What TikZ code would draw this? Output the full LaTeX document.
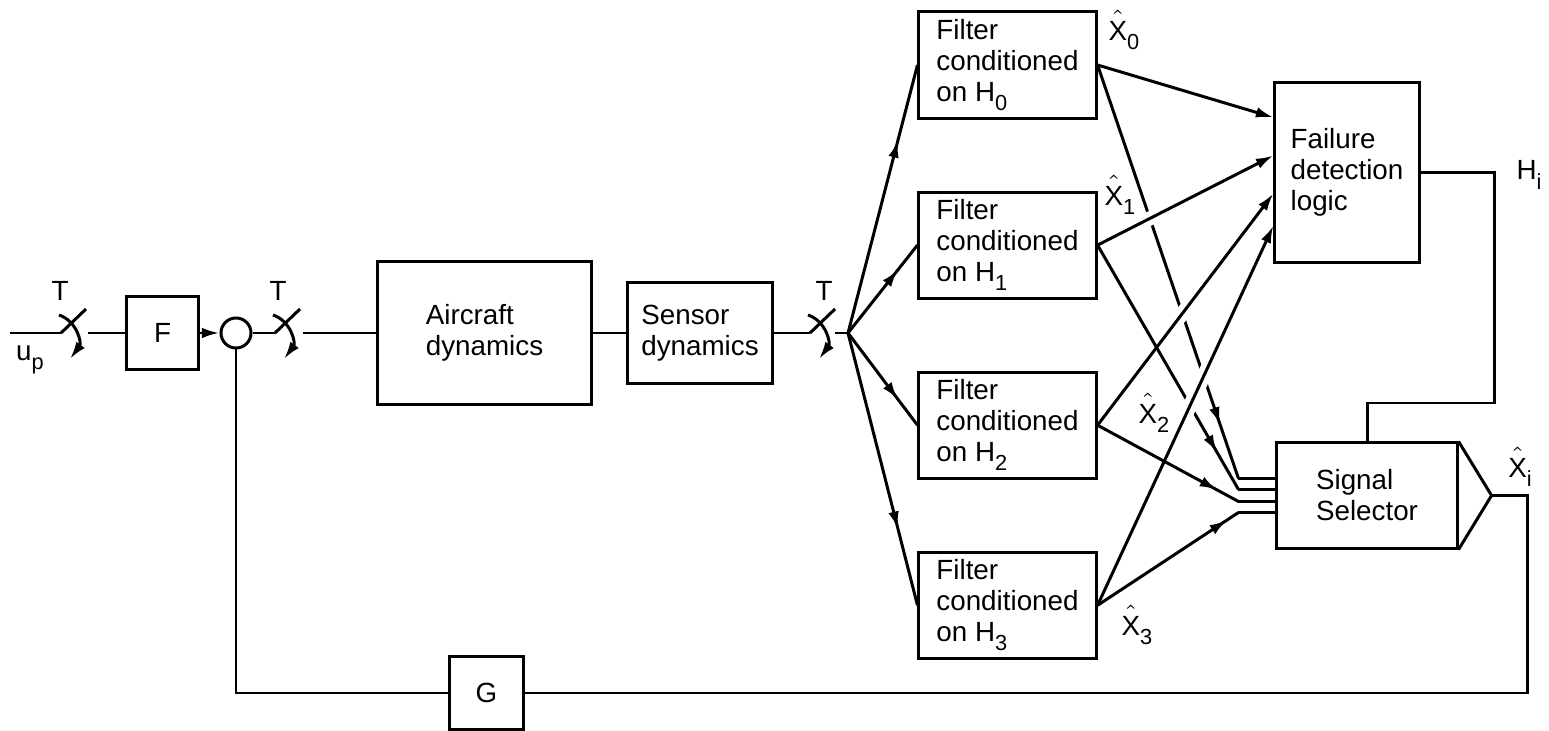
\documentclass[tikz,border=0pt]{standalone}
\usepackage{fontspec}
\setmainfont{Liberation Sans}
\usetikzlibrary{arrows.meta,calc,decorations.markings}

\newcommand{\lowsub}[1]{\raisebox{-2.6pt}{\fontsize{6.2}{6.2}\selectfont #1}}
\newcommand{\xhat}[1]{$\hat{\mbox{\raisebox{0pt}[1.2\height]{X}}}$\lowsub{#1}}

\begin{document}
\begin{tikzpicture}[x=0.01cm,y=-0.01cm,line width=0.85pt,
    font=\fontsize{7.9}{8.8}\selectfont,>={Latex[length=5pt,width=3pt]}]
\tikzstyle{block} = [draw,align=left,inner sep=0pt]
\tikzstyle{filterbox} = [block,minimum width=1.77cm,minimum height=1.06cm,node distance=1.8cm]
\tikzstyle{gap} = [preaction={draw=white,line width=4pt,-,shorten <=8pt,shorten >=12pt}]
\tikzset{midarrow/.style={postaction={decorate},
    decoration={markings,mark=at position #1 with {\arrow{>}}}}}

\useasboundingbox (0,0) rectangle (1549,731);

\node[block,minimum width=0.72cm,minimum height=0.72cm] (f) at (162.5,333) {F};
\node[draw,circle,minimum size=0.3cm,inner sep=0pt] (circ) at (236,333) {};
\node[block,minimum width=2.13cm,minimum height=1.43cm] (ac) at (484.5,333) {Aircraft\\dynamics};
\node[block,minimum width=1.44cm,minimum height=1.01cm] (sd) at (700,333) {Sensor\\dynamics};

\node[filterbox] (f0) at (1007.5,65) {Filter\\conditioned\\on H\lowsub{0}};
\node[filterbox,below of=f0] (f1) {Filter\\conditioned\\on H\lowsub{1}};
\node[filterbox,below of=f1] (f2) {Filter\\conditioned\\on H\lowsub{2}};
\node[filterbox,below of=f2] (f3) {Filter\\conditioned\\on H\lowsub{3}};

\node[block,minimum width=1.44cm,minimum height=1.79cm] (fdl) at (1347,172.5) {Failure\\detection\\logic};
\node[block,minimum width=1.80cm,minimum height=1.05cm] (ss) at (1367,495.5) {Signal\\Selector};
\node[block,minimum width=0.73cm,minimum height=0.72cm] (g) at (486.5,693) {G};

% sampling switches
\coordinate (in) at (10,333);
\coordinate (sw1) at (61,333);
\coordinate (sw1b) at (88,333);
\coordinate (sw2) at (275,333);
\coordinate (sw2b) at (303,333);
\coordinate (sw3) at (810,333);
\coordinate (sw3b) at (835,333);
\coordinate (j) at (848,333);

\foreach \s/\t in {sw1/-1,sw2/3,sw3/14}{
  \draw (\s) -- ++(25,-24);
  \draw[->] ($(\s)+(-2,-18)$) .. controls ($(\s)+(16,-12)$) and ($(\s)+(21,10)$) .. ($(\s)+(9,26)$);
  \node (t\s) at ($(\s)+(\t,-42)$) {T};
}

\draw (in) -- (sw1);
\draw (sw1b) -- (f);
\draw[->] (f) -- (circ);
\draw (circ) -- (sw2);
\draw (sw2b) -- (ac);
\draw (ac) -- (sd);
\draw (sd) -- (sw3);
\draw (sw3b) -- (j);
\foreach \k in {0,...,3} \draw[midarrow=0.72] (j) -- (f\k.west);

% filter outputs
\foreach \k/\dy in {0/-55,1/-17,2/21,3/53} \coordinate (i\k) at ($(fdl.west)+(0,\dy)$);
\foreach \k/\dy in {0/-17,1/-6,2/6,3/17}{
  \coordinate (s\k) at ($(ss.west)+(-37,\dy)$);
  \draw (s\k) -- (s\k -| ss.west);
}

\draw[midarrow=0.87] (f0.east) -- (s0);
\draw[gap,->] (f1.east) -- (i1);
\draw[gap,->] (f2.east) -- (i2);
\draw[midarrow=0.85] (f1.east) -- (s1);
\draw[gap,->] (f3.east) -- (i3);
\draw[midarrow=0.85] (f2.east) -- (s2);
\draw[midarrow=0.92] (f3.east) -- (s3);
\draw[->] (f0.east) -- (i0);

% selector and feedback
\coordinate (hc) at (1494,403);
\draw (fdl) -| (hc) -| (ss);
\coordinate (tip) at ($(ss.east)+(33,0)$);
\draw (ss.north east) -- (tip) -- (ss.south east);
\coordinate (fb) at (1527,693);
\draw (tip) -| (fb) -- (g);
\draw (g) -| (circ);

\node (up) at (30,360) {u\lowsub{p}};
\node (x0) at (1124,30) {\xhat{0}};
\node (x1) at (1120,195) {\xhat{1}};
\node (x2) at (1154,413) {\xhat{2}};
\node (x3) at (1137,625) {\xhat{3}};
\node (xi) at (1520,467) {\xhat{i}};
\node (hi) at (1529,175) {H\lowsub{i}};

\end{tikzpicture}
\end{document}
